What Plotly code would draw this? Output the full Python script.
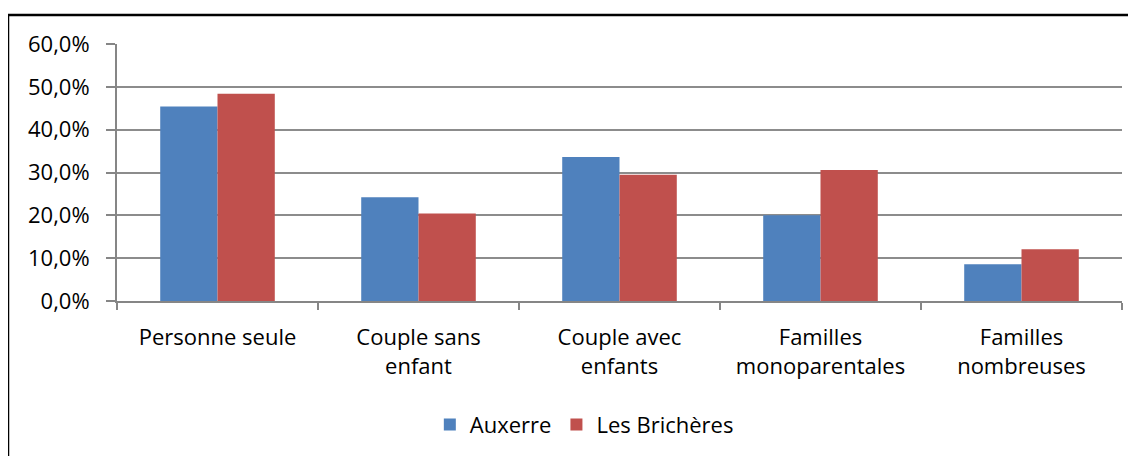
import plotly.graph_objects as go

categories = ["Personne seule", "Couple sans<br>enfant", "Couple avec<br>enfants",
              "Familles<br>monoparentales", "Familles<br>nombreuses"]
auxerre = [0.454, 0.242, 0.336, 0.200, 0.086]
bricheres = [0.484, 0.204, 0.295, 0.306, 0.121]
y_ticks = [0, 0.1, 0.2, 0.3, 0.4, 0.5, 0.6]

W, H = 1136, 456
OFF = 8  # page body margin
L, T = 117 - OFF, 44 - OFF
R = W - (1122 - OFF)
B = H - (301 - OFF)
pw, ph = W - L - R, H - T - B

font = dict(family="'Open Sans', sans-serif", size=22, color="#000000")

fig = go.Figure()
fig.add_trace(go.Bar(x=categories, y=auxerre, name="Auxerre",
                     marker=dict(color="#4F81BD", line=dict(width=0))))
fig.add_trace(go.Bar(x=categories, y=bricheres, name="Les Brichères",
                     marker=dict(color="#C0504D", line=dict(width=0))))

fig.update_layout(
    width=W, height=H,
    margin=dict(l=L, r=R, t=T, b=B, autoexpand=False),
    paper_bgcolor="white", plot_bgcolor="white",
    font=font,
    separators=", ",
    barmode="group", bargap=0.43, bargroupgap=0,
    showlegend=True,
    legend=dict(orientation="h", x=0.465, xanchor="center", y=-0.40, yanchor="top",
                font=font, itemwidth=30, traceorder="normal"),
    xaxis=dict(type="category", tickson="boundaries", ticks="outside", ticklen=7,
               tickcolor="#868686", tickwidth=2, showgrid=False,
               showline=True, linecolor="#868686", linewidth=2,
               tickfont=font, ticklabelstandoff=16),
    yaxis=dict(range=[0, 0.6], tickvals=y_ticks, tickformat=".1%",
               ticks="outside", ticklen=9, tickcolor="#868686", tickwidth=2,
               showgrid=True, gridcolor="#8c8c8c", gridwidth=2,
               showline=True, linecolor="#868686", linewidth=2,
               zeroline=False, tickfont=font, ticklabelstandoff=12),
)

# outer chart border
fig.add_shape(type="rect", xref="paper", yref="paper",
              x0=(8 - OFF - L) / pw, x1=(W + 10 - L) / pw,
              y0=-(H + 10 - (T + ph)) / ph, y1=1 + (T - (15 - OFF)) / ph,
              line=dict(color="black", width=2.5), fillcolor="rgba(0,0,0,0)",
              layer="above")

fig.write_html("out.html")
